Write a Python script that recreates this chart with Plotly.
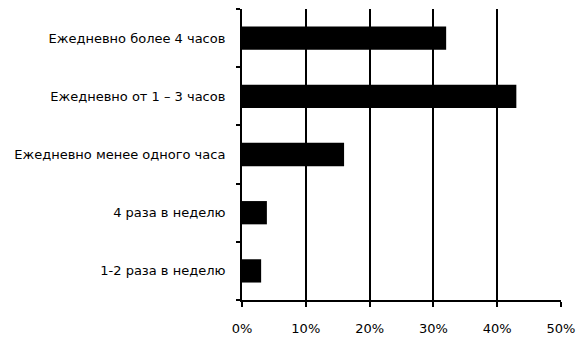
import plotly.graph_objects as go

categories = [
    "Ежедневно более 4 часов",
    "Ежедневно от 1 – 3 часов",
    "Ежедневно менее одного часа",
    "4 раза в неделю",
    "1-2 раза в неделю",
]
values = [32.0, 43.0, 16.0, 3.9, 3.0]
x_ticks = [0, 10, 20, 30, 40, 50]
x_tick_labels = ["0%", "10%", "20%", "30%", "40%", "50%"]

fig = go.Figure(
    go.Bar(
        x=values,
        y=categories,
        orientation="h",
        marker=dict(color="black", line=dict(width=0)),
        width=0.4,
    )
)

font = dict(family="DejaVu Sans", size=13, color="black")

# page body has an 8px default margin, so the figure is sized/placed to compensate
fig.update_layout(
    width=579,
    height=348,
    margin=dict(l=234, r=26, t=1, b=56, autoexpand=False),
    paper_bgcolor="white",
    plot_bgcolor="white",
    showlegend=False,
    font=font,
)
fig.update_xaxes(
    range=[0, 50],
    tickvals=x_ticks,
    ticktext=x_tick_labels,
    showgrid=True,
    gridcolor="black",
    gridwidth=2,
    showline=True,
    linecolor="black",
    linewidth=2,
    ticks="outside",
    ticklen=5,
    tickwidth=2,
    tickcolor="black",
    zeroline=False,
    tickfont=font,
    ticklabelstandoff=10,
    automargin=False,
)
fig.update_yaxes(
    categoryorder="array",
    categoryarray=categories[::-1],
    showgrid=False,
    showline=True,
    linecolor="black",
    linewidth=2,
    ticks="outside",
    tickson="boundaries",
    ticklen=4,
    tickwidth=2,
    tickcolor="black",
    tickfont=font,
    ticklabelstandoff=12,
    automargin=False,
)

fig.write_html("out.html")
